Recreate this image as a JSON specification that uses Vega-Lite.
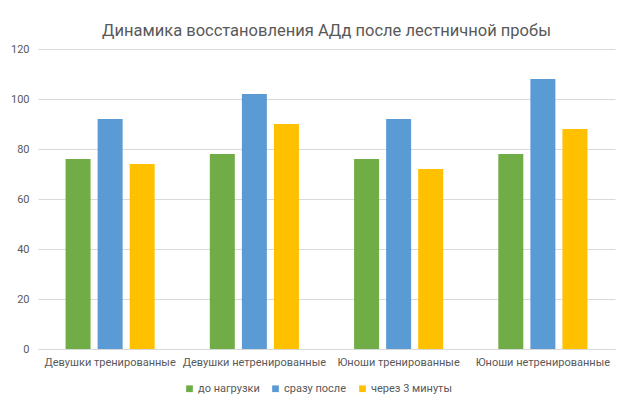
{
  "$schema": "https://vega.github.io/schema/vega-lite/v6.json",
  "width": 577,
  "height": 300,
  "autosize": "none",
  "padding": {"left": 38, "top": 49, "right": 12, "bottom": 62},
  "background": "white",
  "title": {
    "text": "Динамика восстановления АДд после лестничной пробы",
    "fontSize": 16.5,
    "font": "Roboto",
    "fontWeight": "normal",
    "color": "#595959",
    "anchor": "middle",
    "offset": 4
  },
  "data": {
    "values": [
      {"group": "Девушки тренированные", "series": "до нагрузки", "value": 76},
      {"group": "Девушки тренированные", "series": "сразу после", "value": 92},
      {"group": "Девушки тренированные", "series": "через 3 минуты", "value": 74},
      {"group": "Девушки нетренированные", "series": "до нагрузки", "value": 78},
      {"group": "Девушки нетренированные", "series": "сразу после", "value": 102},
      {"group": "Девушки нетренированные", "series": "через 3 минуты", "value": 90},
      {"group": "Юноши тренированные", "series": "до нагрузки", "value": 76},
      {"group": "Юноши тренированные", "series": "сразу после", "value": 92},
      {"group": "Юноши тренированные", "series": "через 3 минуты", "value": 72},
      {"group": "Юноши нетренированные", "series": "до нагрузки", "value": 78},
      {"group": "Юноши нетренированные", "series": "сразу после", "value": 108},
      {"group": "Юноши нетренированные", "series": "через 3 минуты", "value": 88}
    ]
  },
  "mark": {"type": "bar"},
  "encoding": {
    "x": {
      "field": "group",
      "type": "nominal",
      "sort": null,
      "title": null,
      "scale": {"padding": 0},
      "axis": {
        "labelAngle": 0,
        "labelFontSize": 11,
        "labelColor": "#595959",
        "labelFont": "Roboto",
        "ticks": false,
        "domainColor": "#d9d9d9",
        "labelPadding": 7,
        "labelLimit": 0
      }
    },
    "xOffset": {
      "field": "series",
      "type": "nominal",
      "sort": ["до нагрузки", "сразу после", "через 3 минуты"],
      "scale": {"paddingInner": 0.22, "paddingOuter": 0.86}
    },
    "y": {
      "field": "value",
      "type": "quantitative",
      "title": null,
      "scale": {"domain": [0, 120]},
      "axis": {
        "values": [0, 20, 40, 60, 80, 100, 120],
        "labelFontSize": 11,
        "labelColor": "#595959",
        "labelFont": "Roboto",
        "ticks": false,
        "domain": false,
        "gridColor": "#d9d9d9",
        "labelPadding": 9
      }
    },
    "color": {
      "field": "series",
      "type": "nominal",
      "sort": ["до нагрузки", "сразу после", "через 3 минуты"],
      "scale": {
        "domain": ["до нагрузки", "сразу после", "через 3 минуты"],
        "range": ["#70AD47", "#5B9BD5", "#FFC000"]
      },
      "legend": {
        "orient": "none",
        "legendX": 146,
        "legendY": 334,
        "direction": "horizontal",
        "title": null,
        "symbolType": "square",
        "symbolSize": 45,
        "symbolStrokeWidth": 0,
        "labelFontSize": 11,
        "labelColor": "#595959",
        "labelFont": "Roboto",
        "labelOffset": 3,
        "columnPadding": 10
      }
    }
  },
  "config": {
    "view": {"stroke": null}
  }
}
